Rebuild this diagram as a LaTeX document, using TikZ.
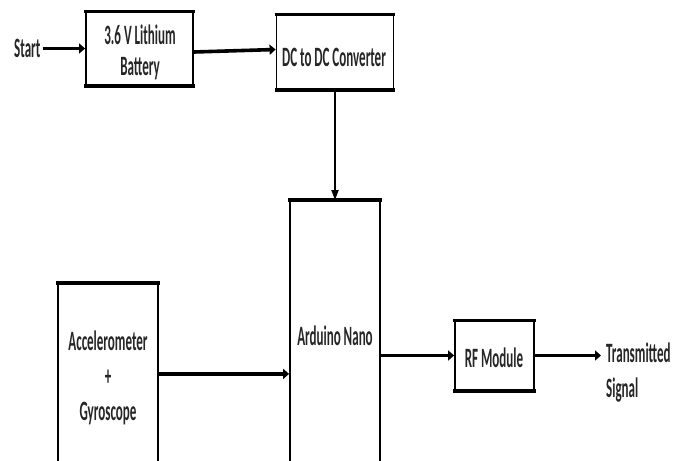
\documentclass[tikz,border=0pt]{standalone}
\usepackage{graphicx}
\usepackage{fontspec}
\setmainfont{Carlito}
\usetikzlibrary{arrows.meta,calc}
\newcommand{\sq}[1]{\scalebox{0.465}[1]{#1}}
\tikzset{
  boxx/.style={draw, line width=1.8pt, inner sep=0pt},
  hedge/.style={line width=3.2pt},
  txt/.style={inner sep=0pt, font=\bfseries\fontsize{28}{35}\selectfont, text=black!85},
  harr/.style={line width=3.6pt, -{Triangle[length=6pt,width=10pt]}},
  varr/.style={line width=2pt, -{Triangle[length=10pt,width=7pt]}},
}
\begin{document}
\begin{tikzpicture}
\clip (0,0) rectangle (689pt,-461pt);
\fill[white] (0,0) rectangle (689pt,-461pt);
% boxes
\node[boxx, minimum width=107pt, minimum height=73pt] (bat) at (139.5pt,-48.5pt) {};
\node[boxx, minimum width=117pt, minimum height=74pt] (dc) at (335pt,-52pt) {};
\node[boxx, minimum width=90pt, minimum height=273pt, anchor=north] (ard) at (335pt,-200pt) {};
\node[boxx, minimum width=100pt, minimum height=190pt, anchor=north] (acc) at (108pt,-283pt) {};
\node[boxx, minimum width=79pt, minimum height=69pt] (rf) at (494.5pt,-355.5pt) {};
\foreach \n in {bat,dc,ard,acc,rf}{
  \draw[hedge] ([xshift=-0.9pt]\n.north west) -- ([xshift=0.9pt]\n.north east);
  \draw[hedge] ([xshift=-0.9pt]\n.south west) -- ([xshift=0.9pt]\n.south east);
}
% texts
\node[txt, anchor=base west] (start) at (14pt,-57pt) {\sq{Start}};
\node[txt, anchor=base, font=\bfseries\fontsize{28}{31}\selectfont] (batt) at (140pt,-44pt)
  {\sq{\begin{tabular}[t]{@{}c@{}}3.6 V Lithium\\Battery\end{tabular}}};
\node[txt, anchor=base] (dct) at (334pt,-66pt) {\sq{DC to DC Converter}};
\node[txt, anchor=base] (ardt) at (335pt,-345pt) {\sq{Arduino Nano}};
\node[txt, anchor=base] (acct) at (108pt,-350pt)
  {\sq{\begin{tabular}[t]{@{}c@{}}Accelerometer\\+\\Gyroscope\end{tabular}}};
\node[txt, anchor=base] (rft) at (494pt,-367pt) {\sq{RF Module}};
\node[txt, anchor=base west] (trans) at (606pt,-362pt)
  {\sq{\begin{tabular}[t]{@{}l@{}}Transmitted\\Signal\end{tabular}}};
\coordinate (tip) at (601pt,-357pt);
% connectors
\draw[harr] ([xshift=2pt]start.east |- bat.west) -- (bat.west);
\draw[harr] ($(bat.east)+(0,-3.5pt)$) -- ($(dc.west)+(0,2.5pt)$);
\draw[varr] (dc.south) -- (ard.north);
\draw[harr] ($(acc.east)+(0,5pt)$) -- ($(ard.west |- acc.east)+(0,5pt)$);
\draw[harr] (ard.east |- rf.west) -- (rf.west);
\draw[harr] (rf.east) -- (rf.east -| tip);
\end{tikzpicture}
\end{document}
